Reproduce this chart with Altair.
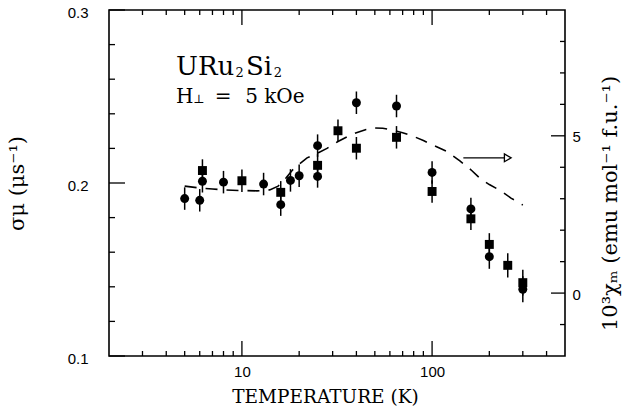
import altair as alt
import pandas as pd

# ---- data ----
circle_T = [5, 6, 6.2, 8, 13, 16, 18, 20, 25, 25, 40, 65, 100, 160, 200, 300]
circle_sigma = [0.191, 0.190, 0.201, 0.2005, 0.1994, 0.1875, 0.2015, 0.2042,
                0.2216, 0.2038, 0.2464, 0.2445, 0.2061, 0.1850, 0.1574, 0.1386]
circle_err = [0.0065, 0.0065, 0.0065, 0.0065, 0.0065, 0.0065, 0.0065, 0.0065,
              0.0065, 0.0065, 0.0065, 0.0065, 0.0065, 0.0065, 0.007, 0.0075]

square_T = [6.2, 10, 16, 25, 32, 40, 65, 100, 160, 200, 250, 300]
square_sigma = [0.2072, 0.2013, 0.1946, 0.2102, 0.2302, 0.2201, 0.2264, 0.1951,
                0.1793, 0.1645, 0.1524, 0.1424]
square_err = [0.0065, 0.0065, 0.0065, 0.0065, 0.0065, 0.0065, 0.0065, 0.0065,
              0.0065, 0.0065, 0.007, 0.0075]

chi_T = [5, 6, 7, 8, 10, 12, 14, 15.5, 17, 18.5, 20, 22, 25, 28, 32, 36, 40, 45,
         50, 55, 60, 70, 80, 90, 100, 120, 140, 160, 180, 200, 230, 260, 300]
chi_val = [3.40, 3.34, 3.31, 3.28, 3.26, 3.25, 3.28, 3.40, 3.65, 3.92, 4.10, 4.30,
           4.45, 4.60, 4.82, 4.98, 5.10, 5.20, 5.25, 5.24, 5.20, 5.10, 4.98, 4.85,
           4.72, 4.50, 4.20, 3.92, 3.63, 3.45, 3.25, 3.02, 2.80]

arrow_T = [146, 243]
arrow_chi = [4.30, 4.30]
head_T = [250]
head_chi = [4.30]

x_major = [10, 100]
x_minor = [3, 4, 5, 6, 7, 8, 9, 20, 30, 40, 50, 60, 70, 80, 90, 200, 300, 400]
s_major = [0.1, 0.2, 0.3]
s_minor = [0.12, 0.14, 0.16, 0.18, 0.22, 0.24, 0.26, 0.28]
c_major = [0, 5]
c_minor = [-1, 1, 2, 3, 4, 6, 7, 8]

# annotation text (label, position in data units, font size)
ann_label = ["URu", "2", "Si", "2", "H", "⊥", "=", "5 kOe"]
ann_T = [4.5, 9.25, 10.5, 14.7, 4.5, 5.55, 7.2, 10.4]
ann_sigma = [0.2624, 0.2612, 0.2624, 0.2612, 0.2462, 0.2462, 0.2462, 0.2462]
ann_size = [26, 13, 26, 13, 20, 12, 20, 20]

W, H = 456, 346
SERIF = "DejaVu Serif"
SANS = "Liberation Sans"

circles = pd.DataFrame({"T": circle_T, "s": circle_sigma, "e": circle_err})
circles["lo"] = circles["s"] - circles["e"]
circles["hi"] = circles["s"] + circles["e"]
squares = pd.DataFrame({"T": square_T, "s": square_sigma, "e": square_err})
squares["lo"] = squares["s"] - squares["e"]
squares["hi"] = squares["s"] + squares["e"]
chi = pd.DataFrame({"T": chi_T, "c": chi_val})
arrow = pd.DataFrame({"T": arrow_T, "c": arrow_chi})
head = pd.DataFrame({"T": head_T, "c": head_chi})
ann = pd.DataFrame({"label": ann_label, "T": ann_T, "s": ann_sigma, "size": ann_size})

xscale = alt.Scale(type="log", domain=[2, 500], nice=False)
sscale = alt.Scale(domain=[0.1, 0.3], nice=False, zero=False)
cscale = alt.Scale(domain=[-2, 9], nice=False, zero=False)

xaxis = alt.Axis(values=x_major, format="d", ticks=False, grid=False, domain=False,
                 labelFont=SANS, labelFontSize=15, labelColor="black", labelPadding=8,
                 labelFlush=False,
                 title="TEMPERATURE (K)", titleFont=SERIF, titleFontSize=18.5,
                 titleFontWeight="normal", titleColor="black", titlePadding=8,
                 titleX=216)
saxis = alt.Axis(values=s_major, format=".1f", ticks=False, grid=False, domain=False,
                 orient="left", labelFont=SANS, labelFontSize=15, labelColor="black",
                 labelPadding=21, labelOffset=2,
                 title="σμ (μs⁻¹)", titleFont=SERIF, titleFontSize=21,
                 titleFontWeight="normal", titleColor="black", titlePadding=40)
caxis = alt.Axis(values=c_major, format="d", ticks=False, grid=False, domain=False,
                 orient="right", labelFont=SANS, labelFontSize=15, labelColor="black",
                 labelPadding=7, labelOffset=1,
                 title="10³χₘ (emu mol⁻¹ f.u.⁻¹)", titleAngle=270, titleFont=SERIF,
                 titleFontSize=21, titleFontWeight="normal", titleColor="black",
                 titlePadding=40, titleY=193)

X = alt.X("T:Q", scale=xscale, axis=xaxis)


def SY(field):
    return alt.Y(f"{field}:Q", scale=sscale, axis=saxis)


def CY(field):
    return alt.Y(f"{field}:Q", scale=cscale, axis=caxis)


# --- sigma group ---
c_err = alt.Chart(circles).mark_rule(color="black", strokeWidth=1.5).encode(
    x=X, y=SY("lo"), y2="hi")
s_err = alt.Chart(squares).mark_rule(color="black", strokeWidth=1.5).encode(
    x=X, y=SY("lo"), y2="hi")
c_pts = alt.Chart(circles).mark_point(shape="circle", filled=True, color="black",
                                      size=80, opacity=1).encode(x=X, y=SY("s"))
s_pts = alt.Chart(squares).mark_point(shape="square", filled=True, color="black",
                                      size=80, opacity=1).encode(x=X, y=SY("s"))
text = alt.Chart(ann).mark_text(align="left", baseline="alphabetic", font=SERIF,
                                color="black").encode(
    x=X, y=SY("s"), text="label:N", size=alt.Size("size:Q", scale=None))

sM = pd.DataFrame({"v": s_major})
sm = pd.DataFrame({"v": s_minor})
s_tick_M = alt.Chart(sM).mark_rule(color="black", strokeWidth=1.3).encode(
    y=SY("v"), x=alt.value(0), x2=alt.value(16))
s_tick_m = alt.Chart(sm).mark_rule(color="black", strokeWidth=1.3).encode(
    y=SY("v"), x=alt.value(0), x2=alt.value(6))

xM = pd.DataFrame({"T": x_major})
xm = pd.DataFrame({"T": x_minor})
xb_M = alt.Chart(xM).mark_rule(color="black", strokeWidth=1.3).encode(
    x=X, y=alt.value(H), y2=alt.value(H - 15))
xb_m = alt.Chart(xm).mark_rule(color="black", strokeWidth=1.3).encode(
    x=X, y=alt.value(H), y2=alt.value(H - 5))
xt_M = alt.Chart(xM).mark_rule(color="black", strokeWidth=1.3).encode(
    x=X, y=alt.value(0), y2=alt.value(15))
xt_m = alt.Chart(xm).mark_rule(color="black", strokeWidth=1.3).encode(
    x=X, y=alt.value(0), y2=alt.value(5))

groupA = alt.layer(c_err, s_err, c_pts, s_pts, text, s_tick_M, s_tick_m,
                   xb_M, xb_m, xt_M, xt_m)

# --- chi group ---
chi_line = alt.Chart(chi).mark_line(color="black", strokeWidth=1.6,
                                    strokeDash=[12, 9]).encode(x=X, y=CY("c"))
arrow_line = alt.Chart(arrow).mark_line(color="black", strokeWidth=1.4).encode(
    x=X, y=CY("c"))
arrow_head = alt.Chart(head).mark_point(shape="triangle-right", filled=True,
                                        fill="white", stroke="black", strokeWidth=1.3,
                                        size=60, opacity=1).encode(x=X, y=CY("c"))
cM = pd.DataFrame({"v": c_major})
cm = pd.DataFrame({"v": c_minor})
c_tick_M = alt.Chart(cM).mark_rule(color="black", strokeWidth=1.3).encode(
    y=CY("v"), x=alt.value(W - 14), x2=alt.value(W))
c_tick_m = alt.Chart(cm).mark_rule(color="black", strokeWidth=1.3).encode(
    y=CY("v"), x=alt.value(W - 5), x2=alt.value(W))

groupB = alt.layer(chi_line, arrow_line, arrow_head, c_tick_M, c_tick_m)

chart = alt.layer(groupA, groupB).resolve_scale(y="independent").properties(
    width=W, height=H,
    autosize=alt.AutoSizeParams(type="none"),
    padding={"left": 109, "top": 10, "right": 61, "bottom": 56},
    background="white",
).configure_view(stroke="black", strokeWidth=1.6)

chart.save("out.html", embed_options={"renderer": "svg", "actions": False})
